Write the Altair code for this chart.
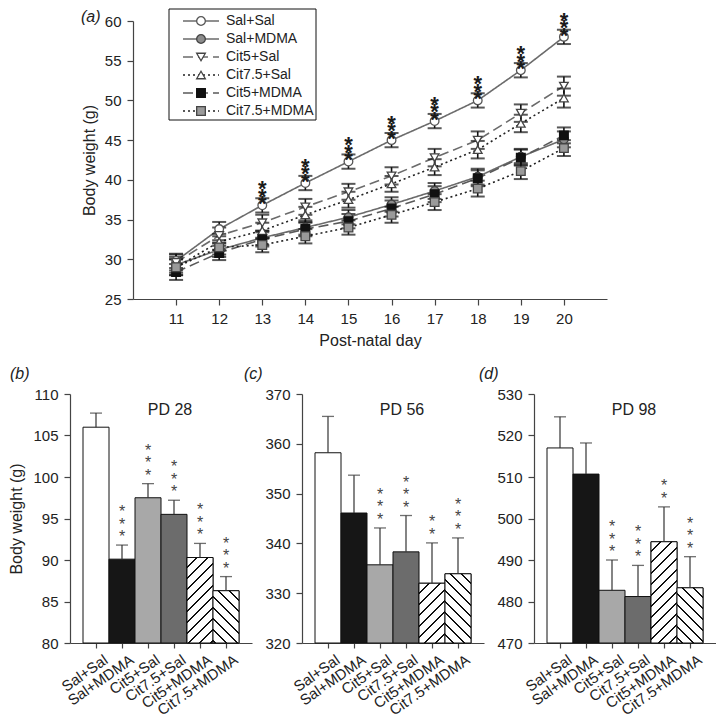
import math
import altair as alt
import pandas as pd

FONT = "Liberation Sans"

# ---------------- data: panel (a) ----------------
days = [11, 12, 13, 14, 15, 16, 17, 18, 19, 20]
series = ["Sal+Sal", "Sal+MDMA", "Cit5+Sal", "Cit7.5+Sal", "Cit5+MDMA", "Cit7.5+MDMA"]

mean_sal_sal = [29.8, 33.8, 36.8, 39.6, 42.3, 45.0, 47.4, 50.0, 53.8, 58.0]
mean_sal_mdma = [29.3, 31.2, 32.7, 34.0, 35.3, 36.9, 38.6, 40.4, 42.9, 45.1]
mean_cit5_sal = [29.6, 33.0, 34.6, 36.6, 38.5, 40.5, 42.8, 45.0, 48.4, 51.8]
mean_cit75_sal = [29.0, 32.2, 33.6, 35.6, 37.5, 39.5, 41.6, 43.8, 47.1, 50.3]
mean_cit5_mdma = [28.4, 30.8, 32.5, 33.8, 34.8, 36.4, 38.2, 40.2, 42.8, 45.6]
mean_cit75_mdma = [29.0, 31.5, 31.8, 32.9, 34.0, 35.6, 37.2, 38.9, 41.1, 44.0]

sem_sal_sal = [0.9, 0.9, 0.9, 0.9, 0.9, 0.9, 0.9, 0.9, 0.9, 0.9]
sem_sal_mdma = [1.0, 0.9, 0.9, 0.9, 0.9, 0.9, 1.0, 1.0, 1.0, 1.0]
sem_cit5_sal = [1.0, 1.0, 1.0, 1.0, 1.0, 1.1, 1.1, 1.1, 1.1, 1.2]
sem_cit75_sal = [1.0, 1.0, 1.0, 1.0, 1.0, 1.0, 1.0, 1.1, 1.1, 1.2]
sem_cit5_mdma = [1.0, 0.9, 0.9, 0.9, 0.9, 1.0, 1.0, 1.0, 1.0, 1.0]
sem_cit75_mdma = [1.0, 0.9, 0.9, 0.9, 0.9, 1.0, 1.0, 1.0, 1.0, 1.0]

star_days = [13, 14, 15, 16, 17, 18, 19, 20]
star_count_a = 3

# ---------------- data: panels (b)-(d) ----------------
groups = ["Sal+Sal", "Sal+MDMA", "Cit5+Sal", "Cit7.5+Sal", "Cit5+MDMA", "Cit7.5+MDMA"]
pd28_mean = [106.0, 90.1, 97.5, 95.5, 90.3, 86.3]
pd28_sem = [1.7, 1.7, 1.7, 1.7, 1.7, 1.7]
pd28_stars = [0, 3, 3, 3, 3, 3]
pd56_mean = [358.2, 346.1, 335.7, 338.3, 332.0, 333.9]
pd56_sem = [7.3, 7.6, 7.4, 7.3, 8.1, 7.2]
pd56_stars = [0, 0, 3, 3, 2, 3]
pd98_mean = [517.0, 510.7, 482.7, 481.2, 494.4, 483.3]
pd98_sem = [7.5, 7.5, 7.3, 7.5, 8.4, 7.5]
pd98_stars = [0, 0, 3, 3, 2, 3]

# ---------------- styles ----------------
line_colors = ["#6b6b6b", "#6b6b6b", "#6b6b6b", "#222222", "#5a5a5a", "#222222"]
line_dashes = [[1, 0], [1, 0], [10, 5], [2, 3], [10, 5], [2, 3]]
shapes = ["circle", "circle", "triangle-down", "triangle-up", "square", "square"]
pt_fills = ["#ffffff", "#8c8c8c", "#ffffff", "#ffffff", "#111111", "#9a9a9a"]
pt_strokes = ["#555555", "#444444", "#444444", "#444444", "#111111", "#444444"]
pt_sizes = [75, 75, 90, 90, 70, 70]
bar_fills = ["#ffffff", "#161616", "#a8a8a8", "#6c6c6c", "#ffffff", "#ffffff"]
hatch_dirs = {"Cit5+MDMA": "/", "Cit7.5+MDMA": "\\"}

TOP_W, TOP_H = 474, 278
BAR_W, BAR_H = 182, 249
STEP = BAR_W / 7.0  # 6 bars + 2*0.5 outer padding

one = pd.DataFrame({"k": [0]})

# ---------------- panel (a) ----------------
mean_lists = [mean_sal_sal, mean_sal_mdma, mean_cit5_sal, mean_cit75_sal, mean_cit5_mdma, mean_cit75_mdma]
sem_lists = [sem_sal_sal, sem_sal_mdma, sem_cit5_sal, sem_cit75_sal, sem_cit5_mdma, sem_cit75_mdma]
rows = []
for s, ms, ss in zip(series, mean_lists, sem_lists):
    for d, m, e in zip(days, ms, ss):
        rows.append({"series": s, "day": d, "mean": m, "lo": m - e, "hi": m + e})
df_a = pd.DataFrame(rows)

ppu_a = TOP_H / 35.0
star_rows = []
for d, m, e in zip(days, mean_sal_sal, sem_sal_sal):
    if d in star_days:
        for k in range(star_count_a):
            star_rows.append({"day": d, "ys": m + e + (k * 7.5) / ppu_a})
df_star = pd.DataFrame(star_rows)

xa = alt.X("day:Q", scale=alt.Scale(domain=[10, 21], nice=False, zero=False),
           axis=alt.Axis(values=days, title="Post-natal day", labelPadding=6, titlePadding=6,
                         grid=False, tickSize=6))
ya_axis = alt.Axis(values=[25, 30, 35, 40, 45, 50, 55, 60], title="Body weight (g)",
                   labelPadding=6, titlePadding=7, grid=False, tickSize=6)
def ya(f):
    return alt.Y(f + ":Q", scale=alt.Scale(domain=[25, 60], nice=False, zero=False), axis=ya_axis)

col_enc = alt.Color("series:N", scale=alt.Scale(domain=series, range=line_colors), legend=None)
dash_enc = alt.StrokeDash("series:N", scale=alt.Scale(domain=series, range=line_dashes), legend=None)
shape_enc = alt.Shape("series:N", scale=alt.Scale(domain=series, range=shapes), legend=None)
fill_enc = alt.Fill("series:N", scale=alt.Scale(domain=series, range=pt_fills), legend=None)
stroke_enc = alt.Stroke("series:N", scale=alt.Scale(domain=series, range=pt_strokes), legend=None)
size_enc = alt.Size("series:N", scale=alt.Scale(domain=series, range=pt_sizes), legend=None)

base_a = alt.Chart(df_a)
lines = base_a.mark_line(strokeWidth=1.6).encode(x=xa, y=ya("mean"), color=col_enc, strokeDash=dash_enc,
                                                  order="day:Q")
err = base_a.mark_rule(color="#111111", strokeWidth=1.6).encode(x=xa, y=ya("lo"), y2="hi:Q")
cap_lo = base_a.mark_tick(orient="horizontal", color="#111111", size=14, thickness=2).encode(x=xa, y=ya("lo"))
cap_hi = base_a.mark_tick(orient="horizontal", color="#111111", size=14, thickness=2).encode(x=xa, y=ya("hi"))
pts = base_a.mark_point(filled=True, opacity=1, strokeWidth=1.3).encode(
    x=xa, y=ya("mean"), shape=shape_enc, fill=fill_enc, stroke=stroke_enc, size=size_enc)
stars_a = alt.Chart(df_star).mark_text(text="*", fontSize=22, fontWeight="bold", color="#1a1a1a",
                                        baseline="alphabetic", dy=13).encode(x=xa, y=ya("ys"))
main_a = alt.layer(lines, err, cap_lo, cap_hi, pts, stars_a)

df_leg = pd.DataFrame({"series": series, "row": list(range(len(series)))})
ly = alt.Y("row:Q", scale=alt.Scale(domain=[0, 5], range=[0, 90]), axis=None)
leg_box = alt.Chart(one).mark_rect(fill="white", stroke="#111111", strokeWidth=1).encode(
    x=alt.value(36), x2=alt.value(183), y=alt.value(-12), y2=alt.value(99))
leg_lines = alt.Chart(df_leg).mark_rule(strokeWidth=1.6).encode(
    x=alt.value(50), x2=alt.value(86), y=ly, color=col_enc, strokeDash=dash_enc)
leg_pts = alt.Chart(df_leg).mark_point(filled=True, opacity=1, strokeWidth=1.3).encode(
    x=alt.value(68), y=ly, shape=shape_enc, fill=fill_enc, stroke=stroke_enc, size=size_enc)
leg_txt = alt.Chart(df_leg).mark_text(align="left", baseline="middle", fontSize=14, color="#222222").encode(
    x=alt.value(93), y=ly, text="series:N")
letter_a = alt.Chart(one).mark_text(align="left", baseline="top", fontSize=16, fontStyle="italic",
                                     color="#222222").encode(x=alt.value(-52), y=alt.value(-12), text=alt.value("(a)"))
legend_a = alt.layer(leg_box, leg_lines, leg_pts, leg_txt, letter_a)

top = alt.layer(main_a, legend_a).resolve_scale(y="independent").properties(width=TOP_W, height=TOP_H)

spacer = alt.Chart(one).mark_point(opacity=0).encode(x=alt.value(0), y=alt.value(0)).properties(
    width=63, height=10)

# ---------------- bar panels ----------------
def hatch_gradient(W, H, direction, period=11.0, frac=0.17, color="#111111"):
    # objectBoundingBox gradient giving 45-degree stripes in pixel space
    L = W + H
    s = W * H * L / (W * W + H * H)
    if direction == "/":
        x1, y1, x2, y2 = 0.0, 0.0, s / H, s / W
    else:
        x1, y1, x2, y2 = 1.0, 0.0, 1.0 - s / H, s / W
    stops = []
    k = 0
    last = 0.0
    while True:
        s0 = k * period / L
        if s0 >= 1:
            break
        a = (k * period + period * (1 - frac)) / L
        b = (k + 1) * period / L
        stops.append({"offset": round(s0, 5), "color": "#ffffff"})
        if a >= 1:
            stops.append({"offset": 1.0, "color": "#ffffff"})
            last = 1.0
            break
        stops.append({"offset": round(a, 5), "color": "#ffffff"})
        stops.append({"offset": round(a, 5), "color": color})
        bb = min(b, 1.0)
        stops.append({"offset": round(bb, 5), "color": color})
        last = bb
        k += 1
    if last < 1.0:
        stops.append({"offset": 1.0, "color": "#ffffff"})
    return {"gradient": "linear", "x1": x1, "y1": y1, "x2": x2, "y2": y2, "stops": stops}


def bar_panel(means, sems, stars, ymin, ymax, ystep, pd_label, letter, letter_dx, show_title):
    df = pd.DataFrame({"group": groups, "mean": means, "sem": sems})
    df["hi"] = df["mean"] + df["sem"]
    ppu = BAR_H / float(ymax - ymin)
    srows = []
    for g, m, e, n in zip(groups, means, sems, stars):
        for k in range(n):
            srows.append({"group": g, "ys": m + e + (12.0 + 12.5 * k) / ppu})
    dfs = pd.DataFrame(srows)
    base = alt.Chart(df)
    xenc = alt.X("group:N", sort=groups,
                 scale=alt.Scale(domain=groups, paddingInner=0, paddingOuter=0.5),
                 axis=alt.Axis(title=None, labelAngle=-35, labelAlign="right", labelBaseline="top",
                               labelOffset=6, labelPadding=4, tickSize=5, labelFontSize=15))
    yaxis = alt.Axis(title="Body weight (g)" if show_title else None,
                     values=list(range(ymin, ymax + 1, ystep)), labelPadding=6, titlePadding=8,
                     tickSize=6, grid=False)

    def yenc(f):
        return alt.Y(f + ":Q", scale=alt.Scale(domain=[ymin, ymax], nice=False, zero=False), axis=yaxis)

    bars = base.mark_bar(stroke="#111111", strokeWidth=1).encode(
        x=xenc, y=yenc("mean"), y2=alt.datum(ymin),
        fill=alt.Fill("group:N", scale=alt.Scale(domain=groups, range=bar_fills), legend=None))
    layers = [bars]
    for g, dirn in hatch_dirs.items():
        v = means[groups.index(g)]
        H = (v - ymin) * ppu
        grad = hatch_gradient(STEP, H, dirn)
        layers.append(base.transform_filter(alt.datum.group == g).mark_bar(
            fill=grad, stroke="#111111", strokeWidth=1).encode(x=xenc, y=yenc("mean"), y2=alt.datum(ymin)))
    err_r = base.mark_rule(color="#333333", strokeWidth=1.2).encode(x=xenc, y=yenc("mean"), y2="hi:Q")
    err_c = base.mark_tick(orient="horizontal", color="#333333", size=12, thickness=1.3).encode(
        x=xenc, y=yenc("hi"))
    st = alt.Chart(dfs).mark_text(text="*", fontSize=16, color="#444444",
                                  baseline="alphabetic", dy=9).encode(x=xenc, y=yenc("ys"))
    lab = alt.Chart(one).mark_text(fontSize=16, color="#222222", baseline="top").encode(
        x=alt.value(100), y=alt.value(8), text=alt.value(pd_label))
    let = alt.Chart(one).mark_text(align="left", baseline="top", fontSize=16, fontStyle="italic",
                                   color="#222222").encode(x=alt.value(letter_dx), y=alt.value(-28),
                                                           text=alt.value(letter))
    layers += [err_r, err_c, st, lab, let]
    return alt.layer(*layers).properties(width=BAR_W, height=BAR_H)


pb = bar_panel(pd28_mean, pd28_sem, pd28_stars, 80, 110, 5, "PD 28", "(b)", -60, True)
pc = bar_panel(pd56_mean, pd56_sem, pd56_stars, 320, 370, 10, "PD 56", "(c)", -58, False)
pdd = bar_panel(pd98_mean, pd98_sem, pd98_stars, 470, 530, 10, "PD 98", "(d)", -55, False)

top_row = alt.hconcat(spacer, top, spacing=0, bounds="flush")
bottom_row = alt.hconcat(pb, pc, pdd, spacing=50, bounds="flush").resolve_scale(fill="independent")

chart = alt.vconcat(top_row, bottom_row, spacing=18).resolve_scale(
    fill="independent", color="independent", stroke="independent", shape="independent",
    size="independent", strokeDash="independent").properties(
    padding={"left": 0, "top": 0, "right": 0, "bottom": 8}).configure_view(
    stroke=None).configure_axis(
    labelFont=FONT, titleFont=FONT, labelFontSize=15, titleFontSize=16, labelColor="#222222",
    titleColor="#222222", domainColor="#444444", tickColor="#444444", titleFontWeight="normal",
    domainWidth=1.2, tickWidth=1.2).configure_text(font=FONT)

chart.save("out.html", embed_options={"renderer": "svg", "actions": False})
